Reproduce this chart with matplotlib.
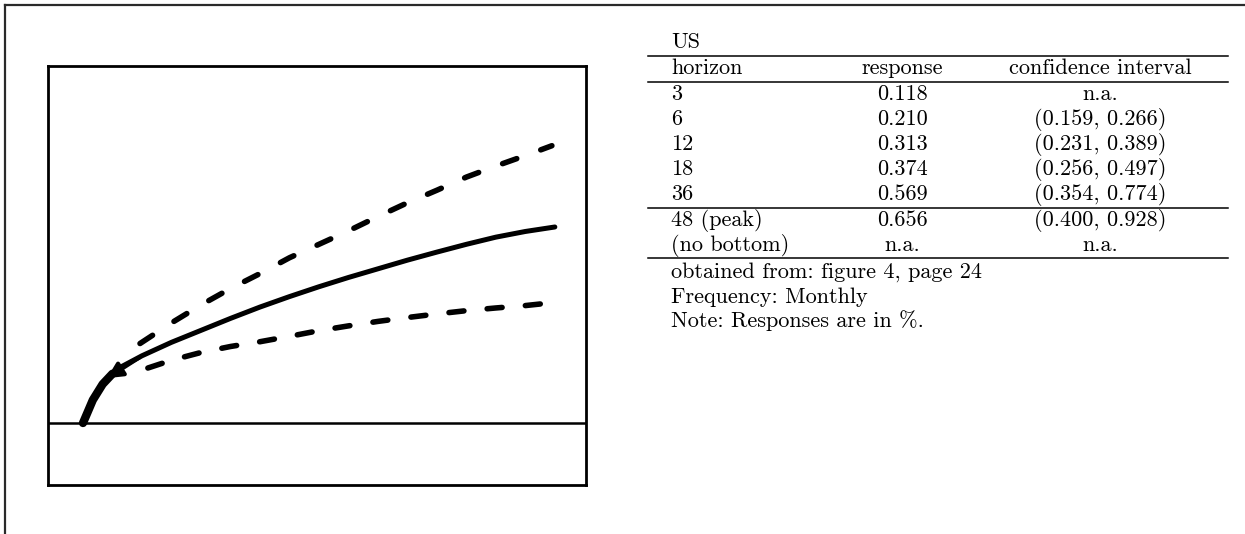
import matplotlib
matplotlib.use("Agg")
import matplotlib.pyplot as plt
from matplotlib.lines import Line2D

W, H = 1245, 534

# ---------------- chart data (months, response in %) ----------------
months_resp = [0, 1, 2, 3, 4, 6, 9, 12, 15, 18, 21, 24, 27, 30, 33, 36, 39, 42, 45, 48]
response = [0.0, 0.077, 0.13, 0.165, 0.19, 0.225, 0.27, 0.31, 0.35, 0.388, 0.423,
            0.456, 0.487, 0.516, 0.545, 0.572, 0.598, 0.622, 0.641, 0.656]
months_upper = [5.8, 9, 12, 15, 18, 21, 24, 27, 30, 33, 36, 39, 42, 45, 47.7]
upper = [0.266, 0.335, 0.395, 0.45, 0.50, 0.553, 0.598, 0.643, 0.691, 0.737,
         0.779, 0.823, 0.86, 0.895, 0.928]
months_lower = [6.6, 9, 12, 15, 18, 21, 24, 27, 30, 33, 36, 39, 42, 45, 47]
lower = [0.184, 0.21, 0.236, 0.256, 0.272, 0.29, 0.309, 0.325, 0.34, 0.353,
         0.365, 0.376, 0.385, 0.393, 0.40]

# ---------------- table data ----------------
table_title = "US"
col_headers = ["horizon", "response", "confidence interval"]
horizons = ["3", "6", "12", "18", "36", "48 (peak)", "(no bottom)"]
responses = ["0.118", "0.210", "0.313", "0.374", "0.569", "0.656", "n.a."]
conf_int = ["n.a.", "(0.159, 0.266)", "(0.231, 0.389)", "(0.256, 0.497)",
            "(0.354, 0.774)", "(0.400, 0.928)", "n.a."]
notes = ["obtained from: figure 4, page 24", "Frequency: Monthly",
         "Note: Responses are in %."]


def fx(x):
    return x / W


def fy(y):
    return 1 - y / H


fig = plt.figure(figsize=(W / 100, H / 100), dpi=100)

# outer frame (top and left)
fig.add_artist(Line2D([fx(5), fx(1245)], [fy(5), fy(5)], color="#2a2a2a", lw=1.6))
fig.add_artist(Line2D([fx(5), fx(5)], [fy(5), fy(534)], color="#2a2a2a", lw=1.6))

# ---------------- chart ----------------
ax = fig.add_axes([fx(48), fy(485), fx(586) - fx(48), fy(66) - fy(485)])
ax.set_xlim(-3.56, 51.17)
ax.set_ylim(-0.2075, 1.1948)
ax.set_xticks([])
ax.set_yticks([])
for s in ax.spines.values():
    s.set_linewidth(2.0)
    s.set_color("black")
ax.axhline(0, color="black", lw=1.8)

ax.plot(months_resp, response, color="black", lw=3.6, solid_capstyle="round")
ax.plot(months_resp[:4], response[:4], color="black", lw=6.0, solid_capstyle="round")
ax.annotate("", xy=(months_resp[3] - 0.8, response[3] - 0.02),
            xytext=(months_resp[5], response[5]),
            arrowprops=dict(arrowstyle="-|>,head_length=0.9,head_width=0.45",
                            color="black", lw=3.0))
ax.plot(months_upper, upper, color="black", lw=4.0, dashes=(2.7, 4.6),
        dash_capstyle="round")
ax.plot(months_lower, lower, color="black", lw=4.0, dashes=(2.7, 4.2),
        dash_capstyle="round")

# ---------------- table ----------------
FS = 16
FAM = "cmr10"
xl, xr_c, xc_c = 671, 902, 1100
rule_x0, rule_x1 = 648, 1228


def txt(x, y, s, ha="left"):
    fig.text(fx(x), fy(y), s, ha=ha, va="baseline", fontsize=FS, family=FAM)


def rule(y):
    fig.add_artist(Line2D([fx(rule_x0), fx(rule_x1)], [fy(y), fy(y)],
                          color="black", lw=1.1))


txt(xl, 47.5, table_title)
rule(56)
txt(xl, 74, col_headers[0])
txt(xr_c, 74, col_headers[1], ha="center")
txt(xc_c, 74, col_headers[2], ha="center")
rule(82)
row_base = [100, 125, 150, 175, 200, 226, 251]
for yb, h, r, c in zip(row_base, horizons, responses, conf_int):
    txt(xl, yb, h)
    txt(xr_c, yb, r, ha="center")
    txt(xc_c, yb, c, ha="center")
rule(208)
rule(258)
for yb, n in zip([278, 303, 327], notes):
    txt(xl, yb, n)

fig.savefig("out.png", dpi=100)
